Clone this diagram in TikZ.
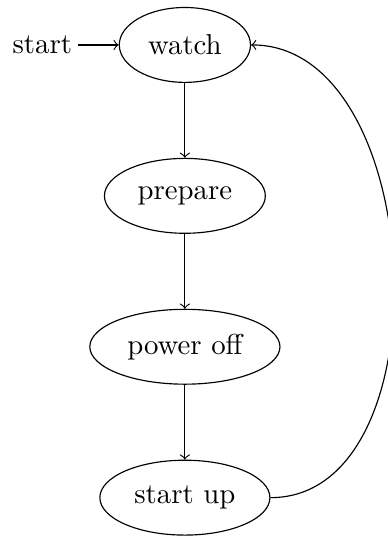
\documentclass[tikz,border=0pt]{standalone}
\usetikzlibrary{positioning,shapes.geometric}

\tikzset{stnode/.style={draw, ellipse, minimum height=26pt}}

\begin{document}
\begin{tikzpicture}[x=1pt,y=1pt,node distance=26pt]
	%set diagram size, the loop back is cut at the right edge
	\useasboundingbox (0,0) rectangle (134.7,-188.2);
	
	% States
	\node [stnode] (watch) at (64.2,-15.6) {watch};
	\node [stnode, below=of watch] (prepare) {prepare};
	\node [stnode, below=of prepare] (poweroff) {power off};
	\node [stnode, below=of poweroff] (startup) {start up};
	
	% Text Node
	\node [left=14pt of watch, inner sep=2pt] (start) {start};
	
	% Transitions
	\draw [->] (start) -- (watch);
	\draw [->] (watch) -- (prepare);
	\draw [->] (prepare) -- (poweroff);
	\draw [->] (poweroff) -- (startup);
	\draw [->] (startup.east) to [out=0, in=0] (watch.east);
	
\end{tikzpicture}
\end{document}
